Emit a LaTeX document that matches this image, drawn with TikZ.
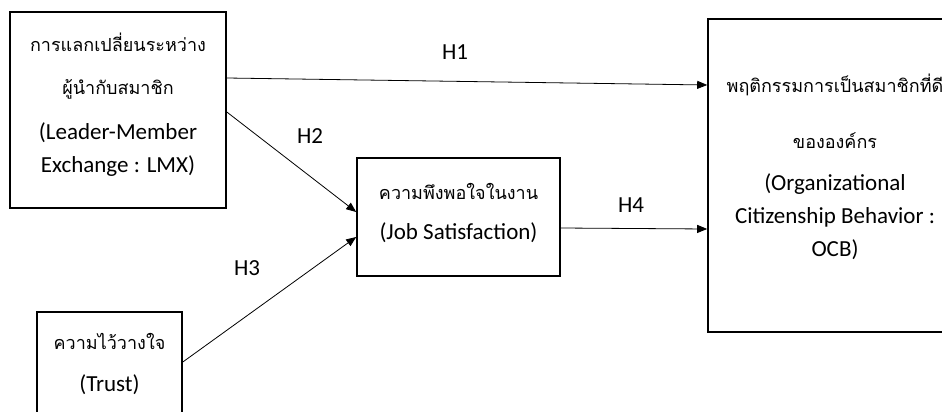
\documentclass[tikz,border=0pt]{standalone}
\usepackage{fontspec}
\setmainfont{Carlito}
\newfontfamily\thai[Script=Thai]{Loma}
\newcommand{\thaitxt}[1]{{\thai\fontsize{18}{33}\selectfont #1}}
\usetikzlibrary{arrows.meta}

\begin{document}
\begin{tikzpicture}[x=1pt,y=-1pt,
  box/.style={draw,line width=1.6pt,inner sep=0pt},
  txt/.style={align=center,inner sep=0pt,font=\fontsize{23}{33}\selectfont},
  link/.style={-{Triangle[length=10pt,width=8pt]},line width=0.8pt},
  hyp/.style={font=\fontsize{23}{26}\selectfont}]
 \clip (0,0) rectangle (942,412);
 \node[box,minimum width=216pt,minimum height=196pt] (lmx) at (118,110) {};
 \node[box,minimum width=203pt,minimum height=118pt] (job) at (458.5,217) {};
 \node[box,minimum width=145pt,minimum height=104pt] (trust) at (109.5,364) {};
 \node[box,minimum width=254pt,minimum height=313pt] (ocb) at (835,175.5) {};
 \node[txt] (lmxtxt) at ([yshift=5pt]lmx.center)
   {\thaitxt{การแลกเปลี่ยนระหว่าง}\\[10pt]\thaitxt{ผู้นำกับสมาชิก}\\[12pt](Leader-Member\\Exchange : LMX)};
 \node[txt] (jobtxt) at ([yshift=4pt]job.center)
   {\thaitxt{ความพึงพอใจในงาน}\\[7pt](Job Satisfaction)};
 \node[txt] (trusttxt) at (trust.center)
   {\thaitxt{ความไว้วางใจ}\\[9pt](Trust)};
 \node[txt] (ocbtxt) at ([yshift=9pt]ocb.center)
   {\thaitxt{พฤติกรรมการเป็นสมาชิกที่ดี}\\[23pt]\thaitxt{ขององค์กร}\\[9pt](Organizational\\Citizenship Behavior :\\OCB)};
 \node[hyp] (h1) at (455,52) {H1};
 \node[hyp] (h2) at (310,136) {H2};
 \node[hyp] (h3) at (247,268) {H3};
 \node[hyp] (h4) at (631,205) {H4};
 \draw[link] ([yshift=32pt]lmx.east) -- ([yshift=90.5pt]ocb.west);
 \draw[link] ([yshift=-2pt]lmx.east) -- ([yshift=5pt]job.west);
 \draw[link] ([yshift=2pt]trust.east) -- ([yshift=-20pt]job.west);
 \draw[link] ([yshift=-11pt]job.east) -- ([yshift=-53.5pt]ocb.west);
\end{tikzpicture}
\end{document}
